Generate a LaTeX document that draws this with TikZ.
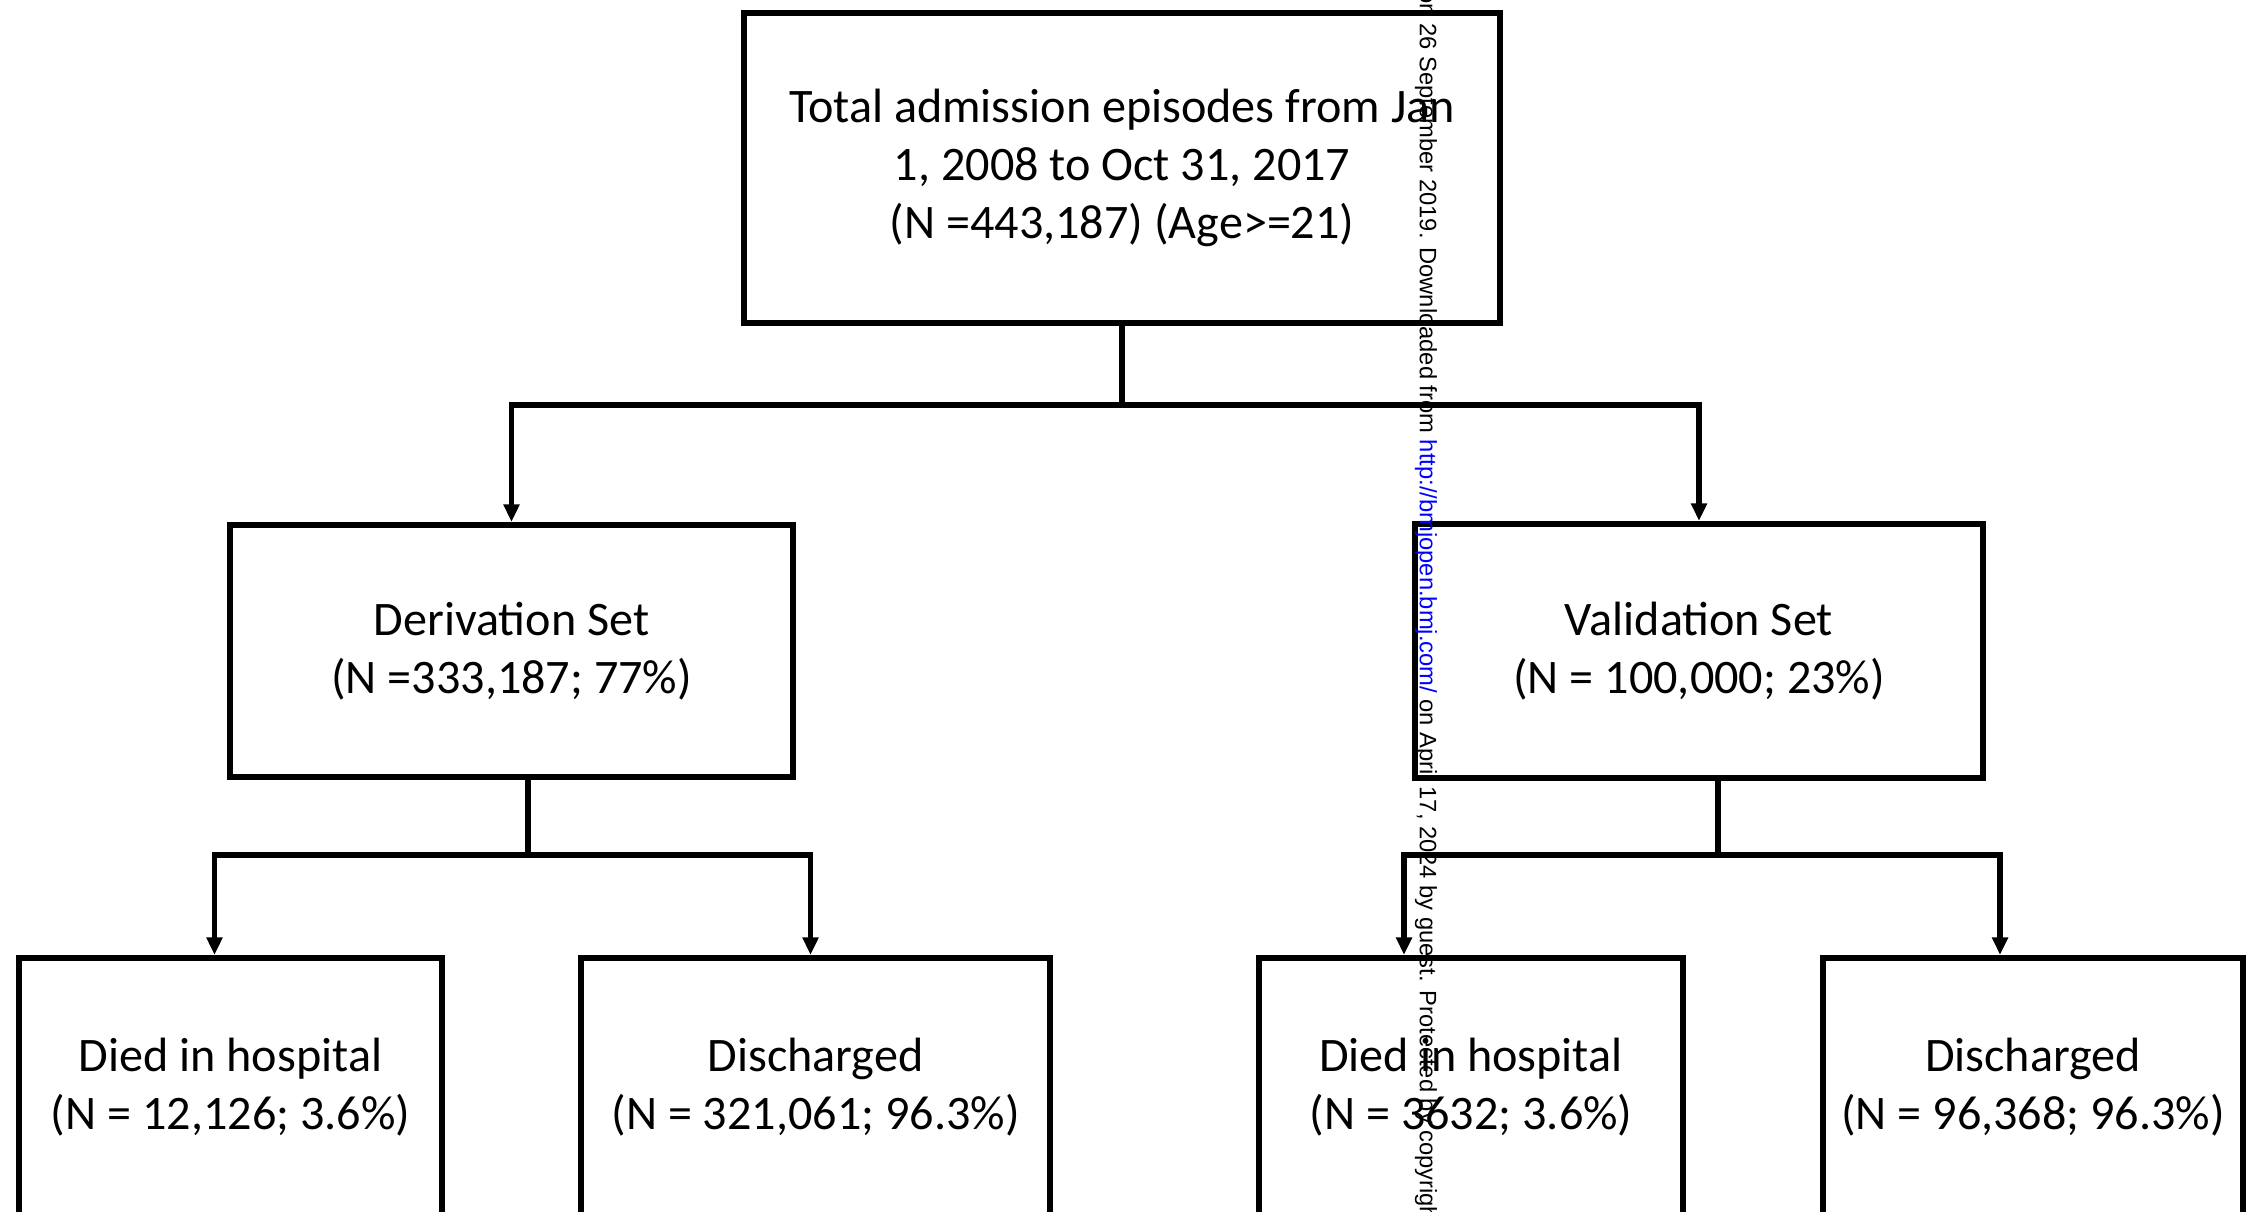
\documentclass[tikz,border=0pt]{standalone}
\usepackage{fontspec}
\setmainfont{Carlito}
\newfontfamily\wmfont{Liberation Sans}
\usetikzlibrary{arrows.meta}

\begin{document}
\begin{tikzpicture}
\tikzstyle{BoxStyle}=[shape = rectangle, draw, line width = 1.8pt, align = center,
inner sep = 0pt, font = \fontsize{13.7}{16.5}\selectfont]
\tikzstyle{LinkStyle}=[line width = 1.5pt]
\tikzstyle{ArrowStyle}=[LinkStyle, -{Triangle[length = 5pt, width = 4.4pt]}]
\useasboundingbox (0,0) rectangle (22.46,-12.11);
\clip (0,0) rectangle (22.46,-12.11);
% boxes
\node[BoxStyle, minimum width = 7.56cm, minimum height = 3.10cm] (b0) at (11.22,-1.68)
  {Total admission episodes from Jan\\1, 2008 to Oct 31, 2017\\(N =443,187) (Age>=21)};
\node[BoxStyle, minimum width = 5.63cm, minimum height = 2.52cm] (b1) at (5.115,-6.51)
  {Derivation Set\\(N =333,187; 77\%)};
\node[BoxStyle, minimum width = 5.68cm, minimum height = 2.54cm] (b2) at (16.99,-6.51)
  {Validation Set\\(N = 100,000; 23\%)};
\node[BoxStyle, minimum width = 4.23cm, minimum height = 2.58cm] (b3) at (2.305,-10.87)
  {Died in hospital\\(N = 12,126; 3.6\%)};
\node[BoxStyle, minimum width = 4.69cm, minimum height = 2.58cm] (b4) at (8.155,-10.87)
  {Discharged\\(N = 321,061; 96.3\%)};
\node[BoxStyle, minimum width = 4.24cm, minimum height = 2.58cm] (b5) at (14.71,-10.87)
  {Died in hospital\\(N = 3632; 3.6\%)};
\node[BoxStyle, minimum width = 4.20cm, minimum height = 2.58cm] (b6) at (20.33,-10.87)
  {Discharged\\(N = 96,368; 96.3\%)};
% junctions
\coordinate (j0) at (11.22,-4.05);
\coordinate (j1) at (5.28,-8.55);
\coordinate (j2) at (17.18,-8.55);
\draw[LinkStyle] (b0) -- (j0);
\draw[ArrowStyle] (j0) -| (b1.north);
\draw[ArrowStyle] (j0) -| (b2.north);
\draw[LinkStyle] (b1.south -| j1) -- (j1);
\draw[ArrowStyle] (j1) -| ([xshift = -1.6mm]b3.north);
\draw[ArrowStyle] (j1) -| ([xshift = -0.5mm]b4.north);
\draw[LinkStyle] (b2.south -| j2) -- (j2);
\draw[ArrowStyle] (j2) -| ([xshift = -6.7mm]b5.north);
\draw[ArrowStyle] (j2) -| ([xshift = -3.3mm]b6.north);
% watermark
\node[rotate = -90, anchor = west, inner sep = 0pt, font = \wmfont\fontsize{6.75}{7}\selectfont] (wm) at (14.26,0.10)
  {on 26 September 2019. Downloaded from \textcolor{blue}{http://bmjopen.bmj.com/} on April 17, 2024 by guest. Protected by copyright.};
\end{tikzpicture}
\end{document}
